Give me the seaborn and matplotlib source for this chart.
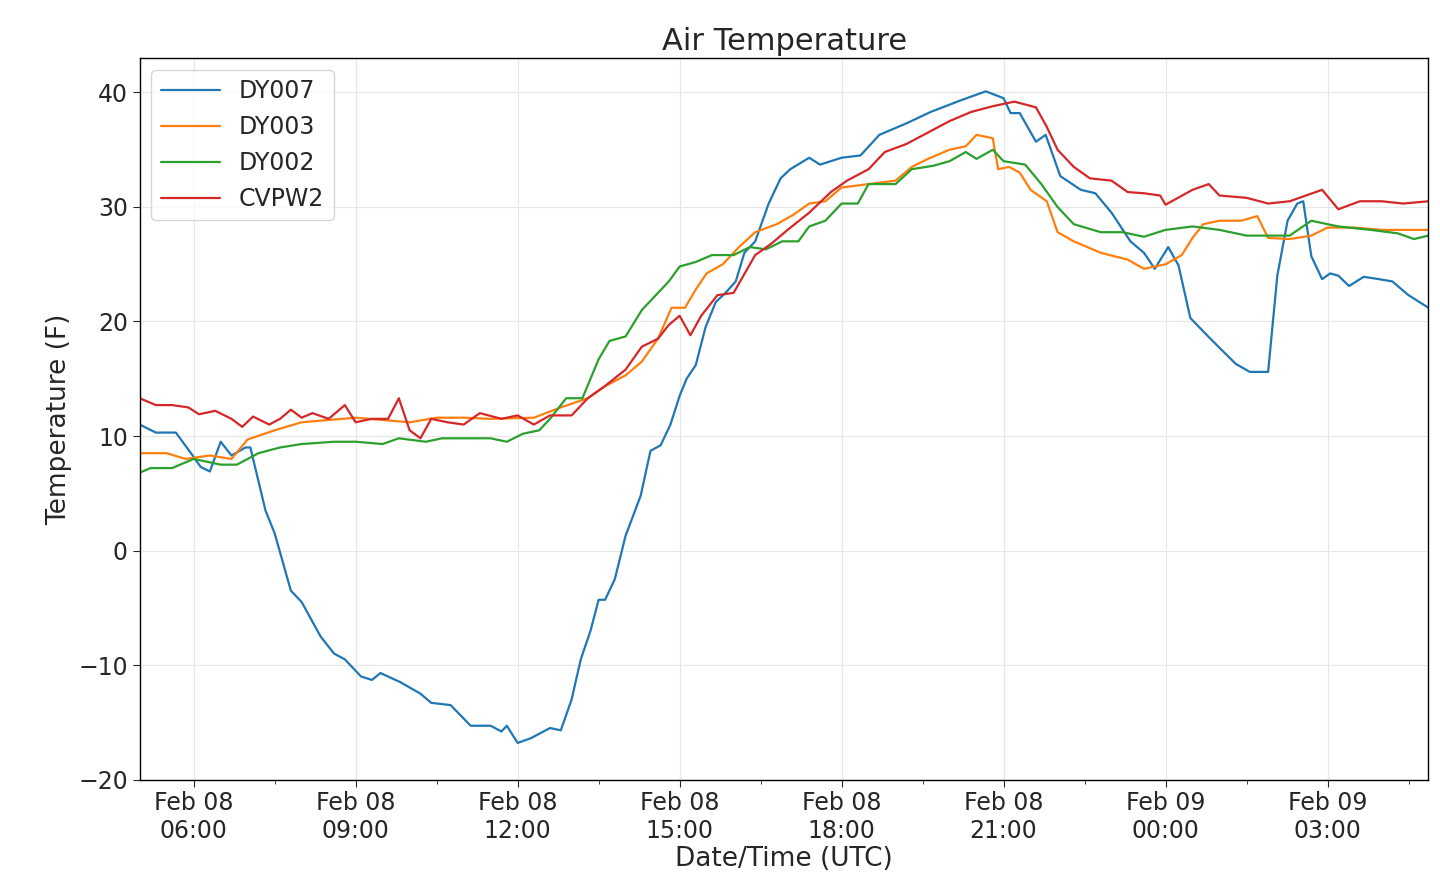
import numpy as np
import pandas as pd
import seaborn as sns
import matplotlib
matplotlib.use("Agg")
import matplotlib.pyplot as plt
import matplotlib.dates as mdates
from matplotlib.ticker import AutoMinorLocator

# hours after 2019-02-08 00:00 UTC
dy007_h = [5.0,5.3,5.67,5.95,6.13,6.3,6.5,6.7,6.96,7.05,7.33,7.5,7.8,8.0,8.35,8.6,8.8,9.1,9.3,9.46,9.83,10.2,10.4,10.76,11.13,11.5,11.7,11.8,12.0,12.24,12.6,12.8,13.0,13.17,13.35,13.5,13.62,13.8,14.0,14.28,14.46,14.65,14.83,15.0,15.13,15.3,15.48,15.67,15.85,16.04,16.2,16.4,16.65,16.87,17.05,17.4,17.6,18.0,18.35,18.7,19.2,19.65,20.2,20.67,21.0,21.13,21.3,21.6,21.78,22.05,22.43,22.7,23.0,23.35,23.6,23.8,24.05,24.24,24.46,24.83,25.3,25.56,25.9,26.07,26.26,26.44,26.55,26.7,26.9,27.05,27.2,27.4,27.67,27.95,28.2,28.5,28.87]
dy007_v = [11,10.3,10.3,8.5,7.3,6.9,9.5,8.3,9,9,3.5,1.5,-3.5,-4.5,-7.5,-9,-9.5,-11,-11.3,-10.7,-11.5,-12.5,-13.3,-13.5,-15.3,-15.3,-15.8,-15.3,-16.8,-16.4,-15.5,-15.7,-13,-9.5,-7,-4.3,-4.3,-2.5,1.3,4.8,8.7,9.2,11,13.5,15,16.2,19.5,21.7,22.5,23.5,26,27,30.3,32.5,33.3,34.3,33.7,34.3,34.5,36.3,37.3,38.3,39.3,40.1,39.5,38.2,38.2,35.7,36.3,32.7,31.5,31.2,29.5,27,26,24.6,26.5,24.9,20.3,18.5,16.3,15.6,15.6,24,28.8,30.3,30.5,25.7,23.7,24.2,24.0,23.1,23.9,23.7,23.5,22.3,21.2]

dy003_h = [5.0,5.5,5.85,6.3,6.7,7.0,7.5,8.0,8.5,9.0,10.0,10.5,11.0,11.5,12.3,12.8,13.3,13.6,14.0,14.3,14.6,14.85,15.1,15.3,15.5,15.8,16.1,16.4,16.8,17.1,17.4,17.7,18.0,18.5,19.0,19.3,19.6,20.0,20.3,20.5,20.8,20.9,21.1,21.3,21.5,21.8,22.0,22.3,22.8,23.3,23.6,24.0,24.3,24.5,24.7,25.0,25.4,25.7,25.9,26.3,26.7,27.0,27.5,28.0,28.87]
dy003_v = [8.5,8.5,8.0,8.3,8.0,9.7,10.5,11.2,11.4,11.6,11.2,11.6,11.6,11.5,11.6,12.5,13.3,14.3,15.3,16.5,18.5,21.2,21.2,22.8,24.2,25,26.5,27.8,28.5,29.3,30.3,30.5,31.7,32.0,32.3,33.5,34.2,35.0,35.3,36.3,36.0,33.3,33.5,33.0,31.5,30.5,27.8,27.0,26.0,25.4,24.6,25.0,25.8,27.3,28.5,28.8,28.8,29.2,27.3,27.2,27.5,28.2,28.2,28.0,28.0]

dy002_h = [5.0,5.2,5.6,6.0,6.5,6.8,7.2,7.6,8.0,8.6,9.0,9.5,9.8,10.3,10.6,11.5,11.8,12.1,12.4,12.6,12.9,13.2,13.5,13.7,14.0,14.3,14.6,14.8,15.0,15.3,15.6,16.0,16.3,16.6,16.9,17.2,17.4,17.7,18.0,18.3,18.5,19.0,19.3,19.7,20.0,20.3,20.5,20.8,21.0,21.4,21.7,22.0,22.3,22.8,23.2,23.6,24.0,24.5,25.0,25.5,26.3,26.7,27.2,27.8,28.3,28.6,28.87]
dy002_v = [6.8,7.2,7.2,8.0,7.5,7.5,8.5,9.0,9.3,9.5,9.5,9.3,9.8,9.5,9.8,9.8,9.5,10.2,10.5,11.5,13.3,13.3,16.7,18.3,18.7,21.0,22.5,23.5,24.8,25.2,25.8,25.8,26.5,26.3,27.0,27.0,28.3,28.8,30.3,30.3,32.0,32.0,33.3,33.6,34.0,34.8,34.2,35.0,34.0,33.7,32.0,30.0,28.5,27.8,27.8,27.4,28.0,28.3,28.0,27.5,27.5,28.8,28.3,28.0,27.7,27.2,27.5]

cvpw2_h = [5.0,5.3,5.6,5.9,6.1,6.4,6.7,6.9,7.1,7.4,7.6,7.8,8.0,8.2,8.5,8.8,9.0,9.3,9.6,9.8,10.0,10.2,10.4,10.7,11.0,11.3,11.7,12.0,12.3,12.6,13.0,13.3,13.6,14.0,14.3,14.6,14.8,15.0,15.2,15.4,15.7,16.0,16.4,16.7,17.0,17.4,17.8,18.1,18.5,18.8,19.2,19.6,20.0,20.4,20.8,21.2,21.6,21.8,22.0,22.3,22.6,23.0,23.3,23.6,23.9,24.0,24.5,24.8,25.0,25.5,25.9,26.3,26.6,26.9,27.2,27.6,28.0,28.4,28.87]
cvpw2_v = [13.3,12.7,12.7,12.5,11.9,12.2,11.5,10.8,11.7,11.0,11.5,12.3,11.6,12.0,11.5,12.7,11.2,11.5,11.5,13.3,10.5,9.8,11.5,11.2,11.0,12.0,11.5,11.8,11.0,11.8,11.8,13.3,14.3,15.8,17.8,18.5,19.7,20.5,18.8,20.5,22.3,22.5,25.8,26.8,28.0,29.5,31.3,32.3,33.3,34.8,35.5,36.5,37.5,38.3,38.8,39.2,38.7,37.0,35.0,33.5,32.5,32.3,31.3,31.2,31.0,30.2,31.5,32.0,31.0,30.8,30.3,30.5,31.0,31.5,29.8,30.5,30.5,30.3,30.5]

names = ["DY007", "DY003", "DY002", "CVPW2"]
series = [(dy007_h, dy007_v), (dy003_h, dy003_v), (dy002_h, dy002_v), (cvpw2_h, cvpw2_v)]
base = pd.Timestamp("2019-02-08 00:00")
frames = []
for n, (h, v) in zip(names, series):
    frames.append(pd.DataFrame({"time": base + pd.to_timedelta(h, unit="h"), "temp": v, "station": n}))
df = pd.concat(frames, ignore_index=True)

sns.set_style("whitegrid", {"axes.edgecolor": "black", "grid.color": "#e6e6e6",
                            "xtick.bottom": True, "ytick.left": True})
plt.rcParams['font.family'] = ['DejaVu Sans']
fig = plt.figure(figsize=(14.4, 8.94), dpi=100)
ax = fig.add_axes([0.097, 0.128, 0.895, 0.807])
sns.lineplot(data=df, x="time", y="temp", hue="station", hue_order=names,
             palette=["#1f77b4", "#ff7f0e", "#2ca02c", "#d62728"], linewidth=1.6, ax=ax)
ax.set_xlim(base + pd.Timedelta(hours=5), base + pd.Timedelta(hours=28.87))
ax.set_ylim(-20, 43)
ax.xaxis.set_major_locator(mdates.HourLocator(byhour=range(0, 24, 3)))
ax.xaxis.set_major_formatter(mdates.DateFormatter("%b %d\n%H:%M"))
ax.xaxis.set_minor_locator(AutoMinorLocator(2))
ax.tick_params(axis="both", which="major", labelsize=17, length=5)
ax.tick_params(axis="x", which="minor", length=3, bottom=True)
ax.set_xlabel("Date/Time (UTC)", fontsize=19, labelpad=2)
ax.set_ylabel("Temperature (F)", fontsize=19)
ax.set_title("Air Temperature", fontsize=22)
for s in ax.spines.values():
    s.set_linewidth(1.0)
leg = ax.legend(loc="upper left", fontsize=17, frameon=True, handlelength=2.5)
leg.get_frame().set_edgecolor("#cccccc")
fig.savefig("out.png", dpi=100)
